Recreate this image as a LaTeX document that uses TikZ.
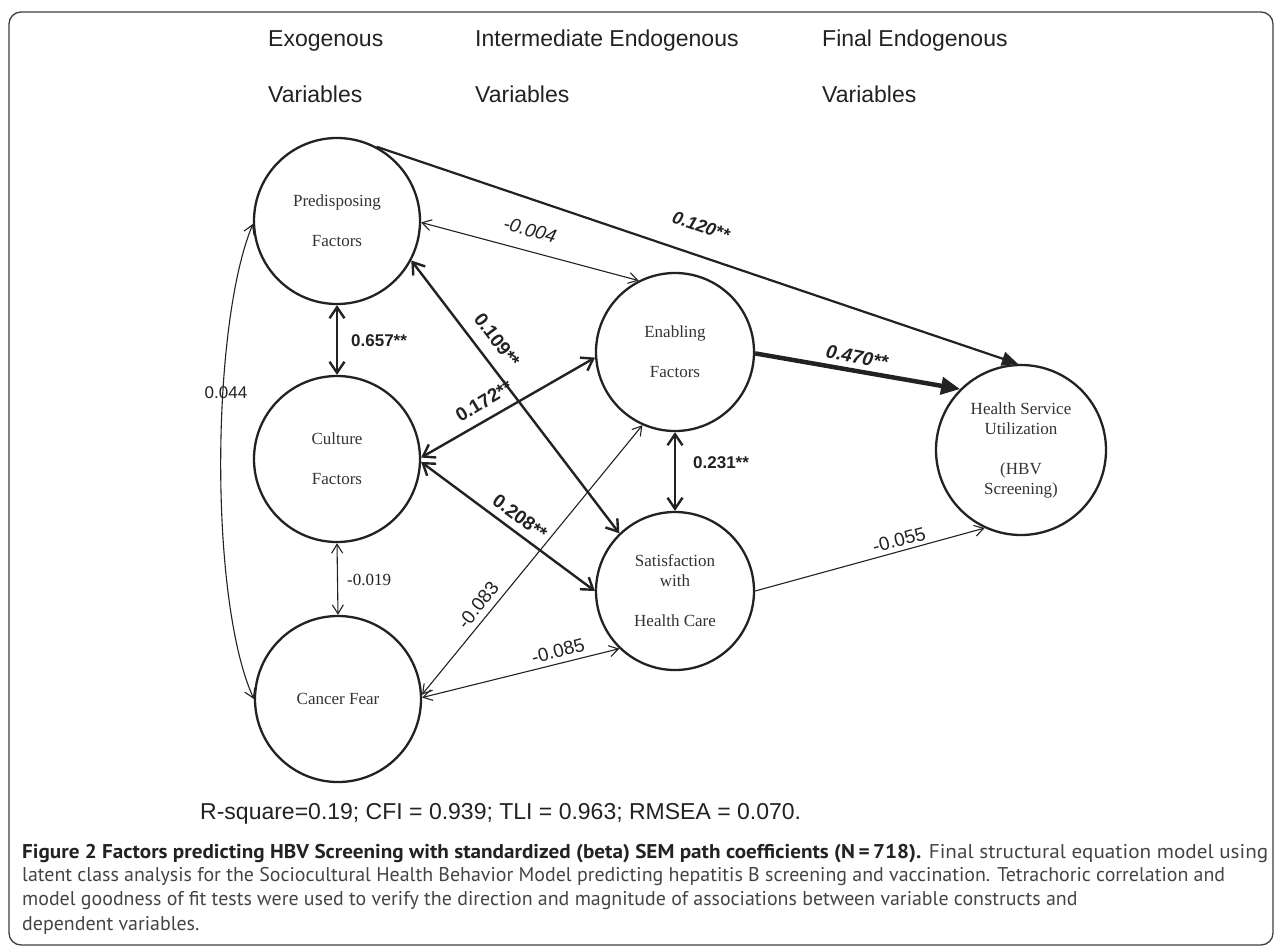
\documentclass[tikz,border=0pt]{standalone}
\usepackage{fontspec}
\usepackage{graphicx}
\setmainfont{Liberation Serif}
\setsansfont{Liberation Sans}
\newfontfamily\capfont{PT Sans}
\usetikzlibrary{arrows.meta}
\definecolor{ink}{HTML}{222222}
\definecolor{txt}{HTML}{333333}
\definecolor{captxt}{HTML}{444444}
\newlength\capw
\begin{document}
\settowidth{\capw}{\capfont\fontsize{10}{12}\selectfont latent class analysis for the Sociocultural Health Behavior Model predicting hepatitis B screening and vaccination. Tetrachoric correlation and}%
\pgfmathsetmacro\capsize{10*1203/\capw}%
\begin{tikzpicture}[x=1pt,y=-1pt,
  var/.style={circle, draw=ink, line width=2.3pt, inner sep=0pt, align=center,
    text=txt, font=\fontsize{17}{20}\selectfont},
  head/.style={anchor=west, text=ink, inner sep=0pt, font=\sffamily\fontsize{23}{28}\selectfont},
  lab/.style={text=ink, inner sep=1pt, font=\sffamily\fontsize{17}{20}\selectfont},
  rlab/.style={text=ink, inner sep=1pt, font=\sffamily\fontsize{19}{22}\selectfont},
  thinboth/.style={draw=ink, line width=1.1pt,
    arrows={Straight Barb[length=9pt,width=11pt]-Straight Barb[length=9pt,width=11pt]}},
  thinone/.style={draw=ink, line width=1.1pt, arrows={-Straight Barb[length=9pt,width=11pt]}},
  boldboth/.style={draw=ink, line width=2.4pt,
    arrows={Straight Barb[length=11pt,width=15pt]-Straight Barb[length=11pt,width=15pt]}},
  fatone/.style={draw=ink, line width=4.5pt, arrows={-Triangle[length=19pt,width=17pt]}},
  medone/.style={draw=ink, line width=2.2pt, arrows={-Triangle[length=16pt,width=14pt]}},
  captext/.style={anchor=west, inner sep=0pt, text=captxt, font=\capfont\fontsize{\capsize}{23}\selectfont}
]
\useasboundingbox (0,0) rectangle (1281,952);
\fill[white] (0,0) rectangle (1281,952);
\draw[draw=black!75, line width=1.3pt, rounded corners=12pt] (9,12) rectangle (1273,945);

% headings
\node[head] (h1a) at (268,41) {Exogenous};
\node[head] (h1b) at (268,94) {Variables};
\node[head] (h2a) at (475,41) {Intermediate Endogenous};
\node[head] (h2b) at (475,94) {Variables};
\node[head] (h3a) at (822,41) {Final Endogenous};
\node[head] (h3b) at (822,94) {Variables};

% variables
\node[var, minimum size=166pt] (P) at (337,221) {Predisposing\\[20pt]Factors};
\node[var, minimum size=166pt] (Cu) at (337,459) {Culture\\[20pt]Factors};
\node[var, minimum size=166pt] (CF) at (338,699) {Cancer Fear};
\node[var, minimum size=158pt] (E) at (675,352) {Enabling\\[20pt]Factors};
\node[var, minimum size=158pt] (S) at (675,591) {Satisfaction\\with\\[20pt]Health Care};
\node[var, minimum size=170pt] (H) at (1021,450) {Health Service\\Utilization\\[20pt](HBV\\Screening)};

% connectors
\draw[boldboth] (P.south) -- (Cu.north);
\draw[thinboth] (Cu.south) -- (CF.north);
\draw[thinboth] (P.182) .. controls (211,325) and (209,600) .. (CF.180);
\draw[thinboth] (P.-1) -- (E.117);
\draw[medone] (P.62) -- (H.92);
\draw[boldboth] (P.-28) -- (S.134);
\draw[boldboth] (Cu.1) -- (E.184);
\draw[boldboth] (Cu.-2) -- (S.180);
\draw[boldboth] (E.south) -- (S.north);
\draw[fatone] (E.-1) -- (H.135);
\draw[thinboth] (CF.3) -- (E.246);
\draw[thinboth] (CF.1) -- (S.226);
\draw[thinone] (S.0) -- (H.245);

% labels
\node[lab, font=\sffamily\bfseries\fontsize{17}{20}\selectfont, anchor=west] (l657) at (350,341) {0.657**};
\node[lab, font=\fontsize{17}{20}\selectfont, anchor=west] (l019) at (346,580) {-0.019};
\node[lab] (l044) at (226,393) {0.044};
\node[rlab, font=\sffamily\itshape\fontsize{19}{22}\selectfont, rotate=-15.4] (l004) at (530,230) {-0.004};
\node[rlab, font=\sffamily\bfseries\itshape\fontsize{18}{22}\selectfont, rotate=-18.6] (l120) at (701,226) {0.120**};
\node[rlab, font=\sffamily\bfseries\fontsize{19}{22}\selectfont, rotate=-53] (l109) at (497,340) {0.109**};
\node[rlab, font=\sffamily\bfseries\fontsize{19}{22}\selectfont, rotate=31] (l172) at (484,401) {0.172**};
\node[rlab, font=\sffamily\bfseries\fontsize{19}{22}\selectfont, rotate=-36.7] (l208) at (520,517) {0.208**};
\node[lab, font=\sffamily\bfseries\fontsize{17}{20}\selectfont, anchor=west] (l231) at (692,463) {0.231**};
\node[rlab, font=\sffamily\bfseries\itshape\fontsize{19}{22}\selectfont, rotate=-10.8] (l470) at (857,357) {0.470**};
\node[rlab, rotate=51.5] (l083) at (478,605) {-0.083};
\node[rlab, rotate=14.9] (l085) at (558,651) {-0.085};
\node[rlab, rotate=15] (l055) at (899,540) {-0.055};

% fit line
\node[head] (fit) at (200,814) {R-square=0.19; CFI = 0.939; TLI = 0.963; RMSEA = 0.070.};

% caption
\node[captext] (c1) at (22,854) {\resizebox{1246pt}{\height}{\textcolor{ink}{\textbf{Figure 2 Factors predicting HBV Screening with standardized (beta) SEM path coefficients (N\,=\,718).}} Final structural equation model using}};
\node[captext] (c2) at (22,877) {latent class analysis for the Sociocultural Health Behavior Model predicting hepatitis B screening and vaccination. Tetrachoric correlation and};
\node[captext] (c3) at (22,901) {model goodness of fit tests were used to verify the direction and magnitude of associations between variable constructs and};
\node[captext] (c4) at (22,925) {dependent variables.};
\end{tikzpicture}
\end{document}
